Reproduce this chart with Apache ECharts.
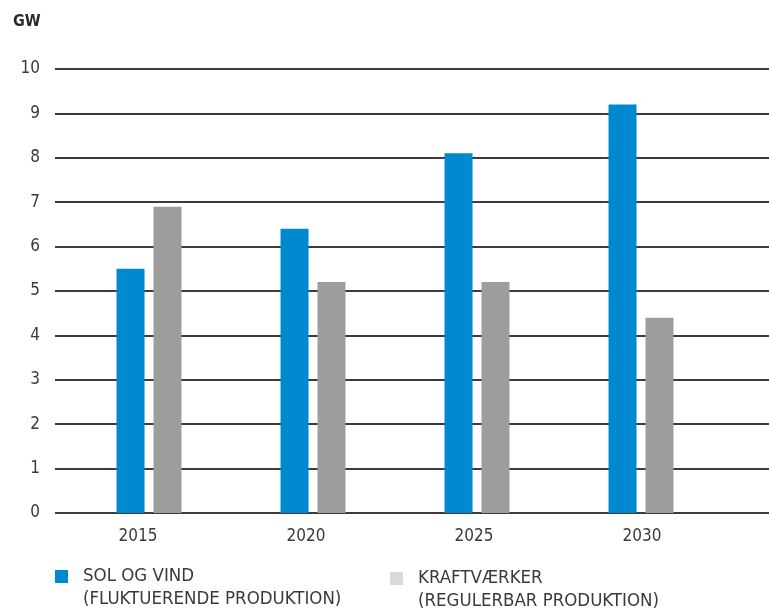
<!DOCTYPE html>
<html>
<head>
<meta charset="utf-8">
<script src="https://cdn.jsdelivr.net/npm/echarts@6/dist/echarts.min.js"></script>
<style>
html, body { margin: 0; padding: 0; background: #fff; }
#chart { width: 769px; height: 615px; }
</style>
</head>
<body>
<div id="chart"></div>
<script>
// Installed capacity (GW) by year
const years = ['2015', '2020', '2025', '2030'];
const solVind = [5.5, 6.4, 8.1, 9.2];
const kraftvaerker = [6.9, 5.2, 5.2, 4.4];
const yTicks = { min: 0, max: 10, interval: 1 };

const seriesNames = [
  'SOL OG VIND\n(FLUKTUERENDE PRODUKTION)',
  'KRAFTVÆRKER\n(REGULERBAR PRODUKTION)'
];

const FONT = '"DejaVu Sans Condensed", "Liberation Sans Narrow", sans-serif';
const TEXT = '#3a3a3a';
const BLUE = '#0089d0';
const GREY = '#9d9d9c';

const chart = echarts.init(document.getElementById('chart'), null, { renderer: 'canvas' });

// Two-line legend text; a leading empty line keeps the first line level with the swatch.
const legendCommon = {
  orient: 'horizontal',
  padding: 0,
  itemWidth: 13,
  itemHeight: 13,
  icon: 'rect',
  formatter: name => '\n' + name,
  textStyle: {
    fontFamily: FONT, fontSize: 18.5, color: TEXT, lineHeight: 23,
    padding: [0, 0, 0, 10]
  }
};

chart.setOption({
  animation: false,
  backgroundColor: '#fff',
  title: {
    text: 'GW', left: 8, top: 9,
    textStyle: { fontFamily: FONT, fontSize: 16, fontWeight: 'bold', color: '#2a2a2a' }
  },
  legend: [
    Object.assign({}, legendCommon, {
      left: 55, top: 542,
      data: [{ name: seriesNames[0], itemStyle: { color: BLUE } }]
    }),
    Object.assign({}, legendCommon, {
      left: 390, top: 544,
      data: [{ name: seriesNames[1], itemStyle: { color: '#d9d9d9' } }]
    })
  ],
  grid: [
    // gridlines and value labels
    { left: 55, right: 0, top: 69, bottom: 102 },
    // bars
    { left: 67, width: 656, top: 69, bottom: 102 },
    // year labels
    { left: 54, width: 672, top: 69, bottom: 102 }
  ],
  xAxis: [
    { gridIndex: 0, type: 'value', show: false, min: 0, max: 1 },
    { gridIndex: 1, type: 'category', data: years, show: false },
    {
      gridIndex: 2, type: 'category', data: years,
      axisLine: { show: false }, axisTick: { show: false },
      axisLabel: { fontFamily: FONT, fontSize: 17, color: TEXT, margin: 15 }
    }
  ],
  yAxis: [
    {
      gridIndex: 0, type: 'value',
      min: yTicks.min, max: yTicks.max, interval: yTicks.interval,
      axisLine: { show: false }, axisTick: { show: false },
      axisLabel: { fontFamily: FONT, fontSize: 17, color: TEXT, margin: 15 },
      splitLine: { show: true, lineStyle: { color: '#3c3c3c', width: 2 } }
    },
    { gridIndex: 1, type: 'value', min: yTicks.min, max: yTicks.max, show: false },
    { gridIndex: 2, type: 'value', min: yTicks.min, max: yTicks.max, show: false }
  ],
  series: [
    {
      name: seriesNames[0], type: 'bar', xAxisIndex: 1, yAxisIndex: 1,
      data: solVind, barWidth: 28, barGap: '32%',
      itemStyle: { color: BLUE }, z: 3
    },
    {
      name: seriesNames[1], type: 'bar', xAxisIndex: 1, yAxisIndex: 1,
      data: kraftvaerker, barWidth: 28, barGap: '32%',
      itemStyle: { color: GREY }, z: 3
    }
  ]
});
</script>
</body>
</html>
